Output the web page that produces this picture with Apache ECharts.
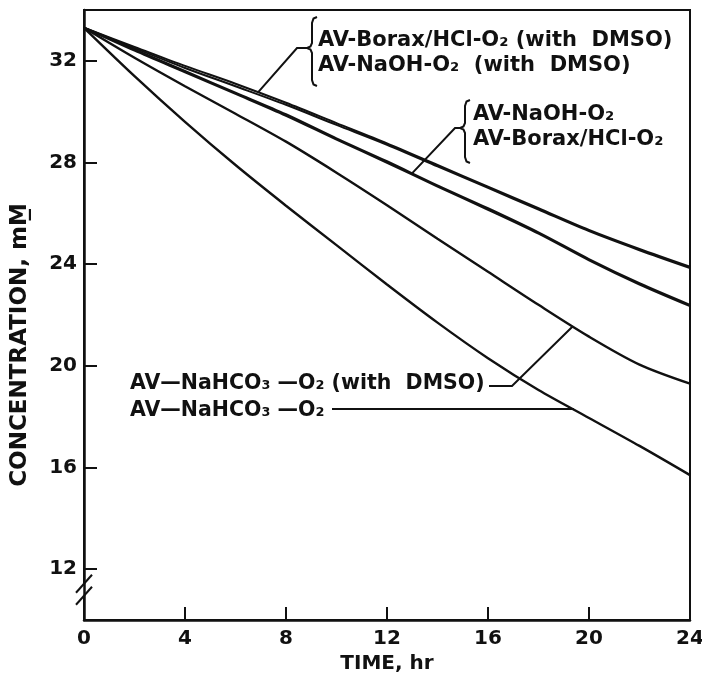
<!DOCTYPE html>
<html>
<head>
<meta charset="utf-8">
<script src="https://cdn.jsdelivr.net/npm/echarts@6/dist/echarts.min.js"></script>
<style>
  html, body { margin: 0; padding: 0; background: #fff; }
  #chart { width: 702px; height: 676px; }
</style>
</head>
<body>
<div id="chart"></div>
<script>
// time points (hr)
const hours = [0, 2, 4, 6, 8, 10, 12, 14, 16, 18, 20, 22, 24];

// concentration, mM
const boraxDmso = [33.3, 32.55, 31.8, 31.1, 30.35, 29.55, 28.75, 27.9, 27.05, 26.2, 25.35, 24.6, 23.9];
const naohDmso = [33.3, 32.5, 31.72, 31.0, 30.27, 29.48, 28.7, 27.85, 27.0, 26.15, 25.3, 24.55, 23.85];
const naoh = [33.3, 32.45, 31.6, 30.75, 29.9, 28.95, 28.05, 27.1, 26.2, 25.25, 24.2, 23.25, 22.4];
const borax = [33.3, 32.4, 31.55, 30.7, 29.84, 28.9, 27.99, 27.05, 26.14, 25.2, 24.15, 23.2, 22.35];
const bicarbDmso = [33.3, 32.12, 31.0, 29.92, 28.82, 27.6, 26.32, 25.0, 23.7, 22.4, 21.15, 20.05, 19.3];
const bicarb = [33.3, 31.4, 29.6, 27.9, 26.3, 24.75, 23.2, 21.7, 20.3, 19.05, 17.95, 16.85, 15.7];

const xTicks = [0, 4, 8, 12, 16, 20, 24];
const yTicks = [12, 16, 20, 24, 28, 32];

// where each label's pointer touches its curve [hr, mM]
const pointerAt = [[6.9, 30.77], [13.0, 27.58], [19.35, 21.55], [19.4, 18.3]];

const FONT = '"DejaVu Sans", sans-serif';
const INK = '#111';

const chart = echarts.init(document.getElementById('chart'));

function curve(name, values, width) {
  return {
    name: name,
    type: 'line',
    smooth: 0.3,
    showSymbol: false,
    silent: true,
    data: hours.map((h, i) => [h, values[i]]),
    lineStyle: { color: INK, width: width },
  };
}

const axisText = { color: INK, fontFamily: FONT, fontWeight: 'bold', fontSize: 20 };

chart.setOption({
  animation: false,
  backgroundColor: '#fff',
  grid: {
    left: 84, right: 12, top: 10, bottom: 56,
    outerBoundsMode: 'none',
    show: true, borderColor: INK, borderWidth: 2,
  },
  xAxis: {
    type: 'value',
    min: 0, max: 24, interval: 4,
    name: 'TIME, hr',
    nameLocation: 'middle',
    nameGap: 34,
    nameTextStyle: axisText,
    axisLine: { lineStyle: { color: INK, width: 2.5 } },
    axisTick: { inside: true, length: 13, lineStyle: { color: INK, width: 2 }, customValues: xTicks },
    axisLabel: { ...axisText, margin: 9, customValues: xTicks },
    splitLine: { show: false },
  },
  yAxis: {
    type: 'value',
    min: 10, max: 34,
    axisLine: { lineStyle: { color: INK, width: 2.5 } },
    axisTick: { inside: true, length: 13, lineStyle: { color: INK, width: 2 }, customValues: yTicks },
    axisLabel: { ...axisText, margin: 7, customValues: yTicks },
    splitLine: { show: false },
  },
  series: [
    curve('AV-Borax/HCl-O2 (with DMSO)', boraxDmso, 2),
    curve('AV-NaOH-O2 (with DMSO)', naohDmso, 2),
    curve('AV-NaOH-O2', naoh, 2),
    curve('AV-Borax/HCl-O2', borax, 2),
    curve('AV-NaHCO3-O2 (with DMSO)', bicarbDmso, 2.4),
    curve('AV-NaHCO3-O2', bicarb, 2.4),
  ],
});

function px(p) { return chart.convertToPixel({ gridIndex: 0 }, p); }

function label(text, x, y, size) {
  return {
    type: 'text', x: x, y: y, silent: true,
    style: {
      text: text, fill: INK, fontFamily: FONT, fontWeight: 'bold', fontSize: size || 21,
      verticalAlign: 'middle', align: 'left',
    },
  };
}
function line(points) {
  return {
    type: 'polyline', silent: true,
    shape: { points: points },
    style: { stroke: INK, lineWidth: 2, fill: null },
  };
}
function brace(x, top, bottom, tip) {
  return line([
    [x + 5, top], [x + 1.5, top + 1.5], [x, top + 6],
    [x, tip - 5], [x - 1.5, tip - 1.5], [x - 5, tip],
    [x - 1.5, tip + 1.5], [x, tip + 5],
    [x, bottom - 6], [x + 1.5, bottom - 1.5], [x + 5, bottom],
  ]);
}

function drawNotes() {
  const p1 = px(pointerAt[0]);
  const p2 = px(pointerAt[1]);
  const p3 = px(pointerAt[2]);
  const p4 = px(pointerAt[3]);
  // axis break on the y axis
  const yb = px([0, 11.15]);
  const bx = yb[0];
  const by = yb[1];

  chart.setOption({
    graphic: [
      {
        type: 'text', silent: true, x: 20, y: 345, rotation: Math.PI / 2,
        style: {
          text: 'CONCENTRATION, mM\u0332', fill: INK, fontFamily: FONT, fontWeight: 'bold',
          fontSize: 23, align: 'center', verticalAlign: 'middle',
        },
      },

      brace(312, 17, 86, 48),
      line([[307, 48], [297, 48], p1]),
      label('AV-Borax/HCl-O\u2082 (with  DMSO)', 318, 41),
      label('AV-NaOH-O\u2082  (with  DMSO)', 318, 66),

      brace(465, 100, 163, 128),
      line([[460, 128], [455, 128], p2]),
      label('AV-NaOH-O\u2082', 473, 115),
      label('AV-Borax/HCl-O\u2082', 473, 140),

      label('AV\u2014NaHCO\u2083 \u2014O\u2082 (with  DMSO)', 130, 384, 20.5),
      line([[489, 386], [512, 386], p3]),
      label('AV\u2014NaHCO\u2083 \u2014O\u2082', 130, 411, 20.5),
      line([[332, p4[1]], p4]),

      {
        type: 'rect', silent: true,
        shape: { x: bx - 4, y: by - 5, width: 8, height: 10 },
        style: { fill: '#fff' },
      },
      line([[bx - 8, by + 2], [bx + 8, by - 16]]),
      line([[bx - 8, by + 14], [bx + 8, by - 4]]),
    ],
  });
}

drawNotes();
</script>
</body>
</html>
